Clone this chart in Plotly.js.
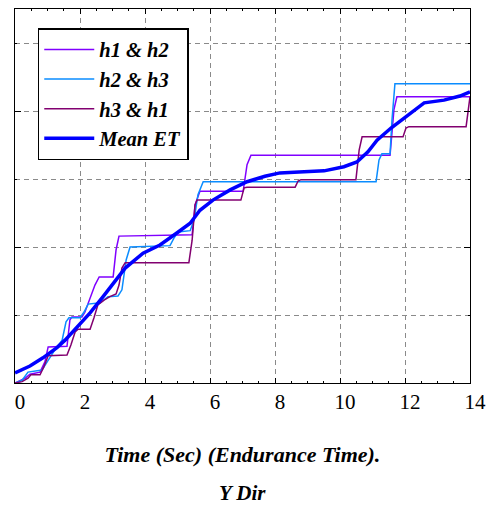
<!DOCTYPE html>
<html>
<head>
<meta charset="utf-8">
<script src="https://cdn.plot.ly/plotly-3.0.1.min.js"></script>
<style>html,body{margin:0;padding:0;background:#fff;}</style>
</head>
<body>
<div id="chart" style="width:488px;height:507px;"></div>
<script>
const seriesNames = ["h1 & h2", "h2 & h3", "h3 & h1", "Mean ET"];

const h12_x = [0,0.15,0.31,0.46,0.77,0.92,1.02,1.6,1.69,1.75,2.06,2.15,2.46,2.59,3.02,3.11,3.2,5.45,5.54,5.69,7.02,7.14,7.26,11.54,11.66,11.75,14];
const h12_y = [0,0.03,0.07,0.13,0.16,0.31,0.53,0.54,0.93,0.97,0.97,1.04,1.44,1.56,1.56,1.96,2.16,2.18,2.62,2.82,2.82,3.21,3.35,3.35,4.02,4.21,4.21];

const h23_x = [0,0.22,0.4,0.83,0.99,1.23,1.45,1.57,1.66,2.0,2.12,2.25,2.62,2.86,3.17,3.29,3.42,3.54,4.77,4.89,5.02,5.39,5.51,5.63,5.79,11.11,11.2,11.29,11.54,11.6,11.69,14];
const h23_y = [0,0.04,0.16,0.19,0.31,0.49,0.63,0.9,0.96,0.96,1.04,1.16,1.18,1.27,1.28,1.37,1.81,2.0,2.02,2.13,2.22,2.24,2.4,2.77,2.96,2.96,3.28,3.37,3.37,3.87,4.4,4.4];

const h31_x = [0,0.22,0.4,0.49,0.77,0.89,1.02,1.6,1.72,1.85,1.94,2.31,2.43,2.55,2.74,2.92,3.11,3.2,3.29,3.39,5.35,5.45,5.54,5.6,6.95,7.05,7.14,8.62,8.71,8.8,10.49,10.59,10.68,11.94,12.03,12.12,13.88,13.94,14];
const h31_y = [0,0.02,0.07,0.12,0.12,0.24,0.4,0.41,0.56,0.75,0.79,0.79,0.96,1.15,1.22,1.27,1.31,1.44,1.69,1.77,1.77,2.1,2.62,2.69,2.69,2.87,2.88,2.88,2.97,2.99,2.99,3.43,3.62,3.62,3.75,3.77,3.77,4.02,4.21];

const mean_x = [0,0.46,0.86,1.29,1.54,1.91,2.31,2.71,3.08,3.39,3.94,4.46,4.99,5.39,5.69,6.09,6.62,7.14,7.69,8.15,8.59,9.51,10.12,10.52,10.86,11.14,11.57,12.19,12.59,13.2,13.69,14];
const mean_y = [0.15,0.25,0.37,0.52,0.63,0.82,1.03,1.27,1.49,1.69,1.91,2.03,2.21,2.35,2.54,2.69,2.84,2.96,3.04,3.09,3.1,3.12,3.18,3.25,3.4,3.57,3.75,3.97,4.12,4.16,4.22,4.28];

const xTickVals = [0,2,4,6,8,10,12,14];
const xTickText = ["0","2","4","6","8","10","12","14"];

const xTitle = "<b><i>Time (Sec) (Endurance Time).</i></b>";
const subTitle = "<b><i>Y Dir</i></b>";

const serif = "Liberation Serif";

const traces = [
  {x:h12_x, y:h12_y, name:"<b><i>" + seriesNames[0] + "</i></b>", mode:"lines", line:{color:"#8000FF", width:1.5}},
  {x:h23_x, y:h23_y, name:"<b><i>" + seriesNames[1] + "</i></b>", mode:"lines", line:{color:"#0A8CFF", width:1.5}},
  {x:h31_x, y:h31_y, name:"<b><i>" + seriesNames[2] + "</i></b>", mode:"lines", line:{color:"#820070", width:1.5}},
  {x:mean_x, y:mean_y, name:"<b><i>" + seriesNames[3] + "</i></b>", mode:"lines", line:{color:"#0000FF", width:3.5}}
];

const gridCol = "#8a8a8a";
const layout = {
  width:488, height:507,
  margin:{l:15, r:18, t:9, b:124},
  paper_bgcolor:"#fff", plot_bgcolor:"#fff",
  showlegend:true,
  font:{family:serif, color:"#000"},
  xaxis:{
    range:[0,14], tickvals:xTickVals, ticktext:xTickText,
    ticks:"inside", ticklen:5, tickcolor:"#000", tickwidth:1,
    showline:true, linecolor:"#000", linewidth:1.2, mirror:"ticks",
    showgrid:true, gridcolor:gridCol, griddash:"5px,4px", gridwidth:1,
    zeroline:false,
    tickfont:{family:serif, size:21, color:"#000"},
    ticklabelshift:5,
    minor:{dtick:0.5, ticks:"inside", ticklen:2, tickcolor:"#000", showgrid:false},
    title:{text:xTitle, font:{family:serif, size:22, color:"#000"}, standoff:33}
  },
  yaxis:{
    range:[0,5.5], dtick:2, tick0:0,
    ticks:"inside", ticklen:6, tickcolor:"#000",
    showline:true, linecolor:"#000", linewidth:1.2, mirror:"ticks",
    showgrid:true, gridcolor:gridCol, griddash:"5px,4px", gridwidth:1,
    zeroline:false, showticklabels:false,
    minor:{dtick:1, ticks:"inside", ticklen:2, tickcolor:"#000", showgrid:true, gridcolor:gridCol, griddash:"5px,4px", gridwidth:1}
  },
  legend:{
    x:0.05, y:0.949, xanchor:"left", yanchor:"top",
    bgcolor:"#fff", bordercolor:"#000", borderwidth:1.5,
    font:{family:serif, size:20.5, color:"#000"},
    itemwidth:50,
    tracegroupgap:0
  },
  annotations:[
    {text:subTitle, xref:"paper", yref:"paper", x:0.5, y:-0.3289, xanchor:"center", yanchor:"bottom", showarrow:false,
     borderpad:0, font:{family:serif, size:21, color:"#000"}}
  ]
};

Plotly.newPlot("chart", traces, layout, {staticPlot:true, displayModeBar:false});
</script>
</body>
</html>
